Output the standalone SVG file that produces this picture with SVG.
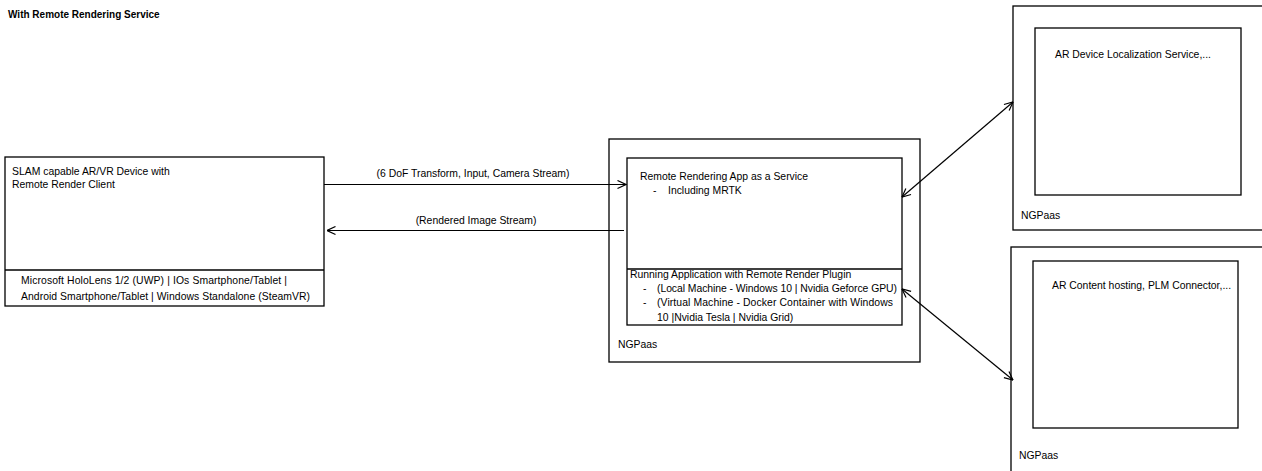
<svg xmlns="http://www.w3.org/2000/svg" width="1262" height="471" viewBox="0 0 1262 471">
<style>
.box{fill:none;stroke:#000;stroke-width:1.3}
.t{font-family:"Liberation Sans",Arial,sans-serif;font-size:10.4px;fill:#000}
.b{font-weight:bold;font-size:10px}
.c{stroke:#000;stroke-width:1.2;fill:none}
</style>
<defs>
<marker id="ah" viewBox="0 0 10 10" refX="9.5" refY="5" markerWidth="10" markerHeight="10" markerUnits="userSpaceOnUse" orient="auto-start-reverse">
<path d="M1,1 L9.5,5 L1,9" fill="none" stroke="#000" stroke-width="1.2"/>
</marker>
</defs>
<rect width="1262" height="471" fill="#fff"/>
<text class="t b" x="8" y="18">With Remote Rendering Service</text>

<g id="device">
<rect class="box" x="5" y="157" width="319" height="149"/>
<line class="box" x1="5" y1="270" x2="324" y2="270"/>
<text class="t" x="12" y="175">SLAM capable AR/VR Device with</text>
<text class="t" x="12" y="188">Remote Render Client</text>
<text class="t" x="21" y="284" textLength="266" lengthAdjust="spacing">Microsoft HoloLens 1/2 (UWP) | IOs Smartphone/Tablet |</text>
<text class="t" x="21" y="300" textLength="289" lengthAdjust="spacing">Android Smartphone/Tablet | Windows Standalone (SteamVR)</text>
</g>

<g id="rendering-service">
<rect class="box" x="609" y="139" width="311" height="223"/>
<rect class="box" x="627" y="158" width="275" height="167"/>
<line class="box" x1="627" y1="269" x2="902" y2="269"/>
<text class="t" x="640" y="180">Remote Rendering App as a Service</text>
<text class="t" x="653" y="194">-</text>
<text class="t" x="668" y="194">Including MRTK</text>
<text class="t" x="630" y="278">Running Application with Remote Render Plugin</text>
<text class="t" x="643" y="292">-</text>
<text class="t" x="657" y="292" textLength="240" lengthAdjust="spacing">(Local Machine - Windows 10 | Nvidia Geforce GPU)</text>
<text class="t" x="643" y="306">-</text>
<text class="t" x="657" y="306" textLength="236" lengthAdjust="spacing">(Virtual Machine - Docker Container with Windows</text>
<text class="t" x="657" y="321">10 |Nvidia Tesla | Nvidia Grid)</text>
<text class="t" x="618" y="348">NGPaas</text>
</g>

<g id="localization-service">
<rect class="box" x="1013" y="6" width="260" height="224"/>
<rect class="box" x="1035" y="28" width="206" height="167"/>
<text class="t" x="1055" y="58">AR Device Localization Service,...</text>
<text class="t" x="1021" y="219">NGPaas</text>
</g>

<g id="content-service">
<rect class="box" x="1011" y="247" width="262" height="240"/>
<rect class="box" x="1033" y="261" width="205" height="167"/>
<text class="t" x="1052" y="289">AR Content hosting, PLM Connector,...</text>
<text class="t" x="1019" y="459">NGPaas</text>
</g>

<g id="connectors">
<line class="c" x1="324" y1="184.5" x2="626" y2="184.5" marker-end="url(#ah)"/>
<text class="t" x="473" y="177" text-anchor="middle">(6 DoF Transform, Input, Camera Stream)</text>
<line class="c" x1="624" y1="230.5" x2="327" y2="230.5" marker-end="url(#ah)"/>
<text class="t" x="476" y="224" text-anchor="middle">(Rendered Image Stream)</text>
<line class="c" x1="902" y1="197" x2="1013" y2="102" marker-start="url(#ah)" marker-end="url(#ah)"/>
<line class="c" x1="902" y1="289" x2="1013" y2="380" marker-start="url(#ah)" marker-end="url(#ah)"/>
</g>
</svg>
